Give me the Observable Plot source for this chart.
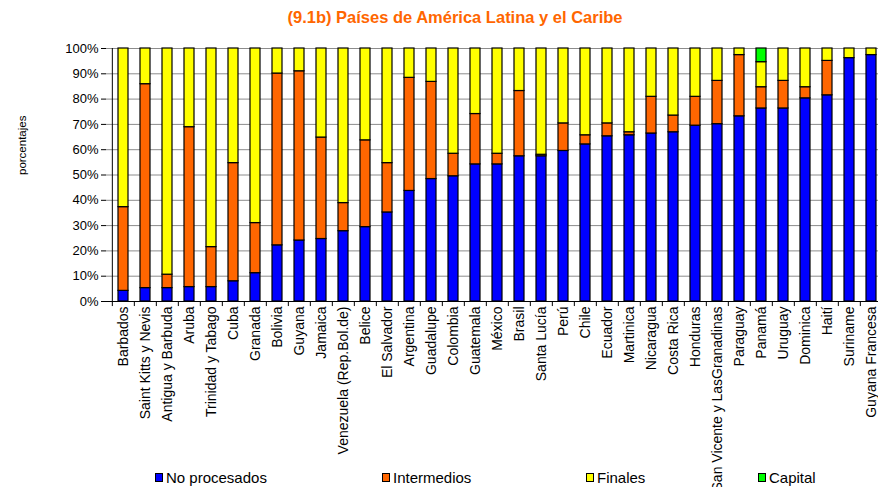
<!DOCTYPE html>
<html><head><meta charset="utf-8">
<script src="https://cdn.jsdelivr.net/npm/d3@7"></script>
<script src="https://cdn.jsdelivr.net/npm/@observablehq/plot@0.6"></script>
<style>
html,body{margin:0;padding:0;background:#fff;}
body{width:878px;height:487px;overflow:hidden;font-family:"Liberation Sans",Arial,sans-serif;}
#title{height:35px;line-height:35px;text-align:center;color:#FF6600;font-weight:bold;font-size:16.5px;padding-left:32px;box-sizing:border-box;width:878px;}
#legend{position:relative;height:19px;width:878px;}
.item{position:absolute;top:0;font-size:15px;line-height:19px;display:flex;align-items:center;color:#000;}
.sw{width:6px;height:7px;border:1px solid #000;margin-right:3px;}
</style>
</head><body>
<div id="title">(9.1b) Países de América Latina y el Caribe</div>
<div id="chart"></div>
<div id="legend"></div>
<script>
const paises = ["Barbados","Saint Kitts y Nevis","Antigua y Barbuda","Aruba","Trinidad y Tabago","Cuba","Granada","Bolivia","Guyana","Jamaica","Venezuela (Rep.Bol.de)","Belice","El Salvador","Argentina","Guadalupe","Colombia","Guatemala","México","Brasil","Santa Lucía","Perú","Chile","Ecuador","Martinica","Nicaragua","Costa Rica","Honduras","San Vicente y LasGranadinas","Paraguay","Panamá","Uruguay","Dominica","Haití","Suriname","Guyana Francesa"];
const noProcesados = [4.2,5.3,5.3,5.7,5.7,8.0,11.2,22.2,24.1,24.7,27.8,29.4,35.2,43.7,48.4,49.5,54.2,54.2,57.4,57.4,59.5,62.1,65.3,65.7,66.4,66.9,69.5,70.1,73.2,76.3,76.3,80.3,81.5,96.2,97.4];
const intermedios = [33.1,80.6,5.3,63.2,15.8,46.7,19.8,67.9,66.9,40.1,11.1,34.3,19.5,44.7,38.4,8.9,19.9,4.2,25.8,0.6,10.9,3.6,5.1,1.2,14.5,6.6,11.4,17.1,24.2,8.4,10.9,4.4,13.6,0,0];
const finales = [62.7,14.1,89.4,31.1,78.5,45.3,69.0,9.9,9.0,35.2,61.1,36.3,45.3,11.6,13.2,41.6,25.9,41.6,16.8,42.0,29.6,34.3,29.6,33.1,19.1,26.5,19.1,12.8,2.6,9.9,12.8,15.3,4.9,3.8,2.6];
const capital = [0,0,0,0,0,0,0,0,0,0,0,0,0,0,0,0,0,0,0,0,0,0,0,0,0,0,0,0,0,5.4,0,0,0,0,0];
const series = ["No procesados","Intermedios","Finales","Capital"];
const colores = ["#0000FF","#FF6600","#FFFF00","#00FF00"];
const yTicks = [0,10,20,30,40,50,60,70,80,90,100];

const valores = [noProcesados, intermedios, finales, capital];
const data = [];
paises.forEach((p, i) => {
  series.forEach((s, j) => {
    const v = valores[j][i];
    if (v > 0) data.push({pais: p, serie: s, valor: v});
  });
});

const W = 890, H = 433, mL = 106, mR = 3, mT = 13, mB = 167;
const step = (W - mL - mR) / paises.length;

const chart = Plot.plot({
  width: W, height: H,
  marginLeft: mL, marginRight: mR, marginTop: mT, marginBottom: mB,
  style: {fontFamily: "'Liberation Sans', Arial, sans-serif", maxWidth: "none", overflow: "visible", background: "transparent", color: "#000"},
  x: {domain: paises, paddingInner: 0.55, paddingOuter: 0.275, label: null},
  y: {domain: [0, 100], label: null},
  color: {domain: series, range: colores},
  marks: [
    Plot.ruleY(yTicks, {stroke: "#8c8c8c", strokeWidth: 1}),
    Plot.barY(data, {x: "pais", y: "valor", fill: "serie", stroke: "#000", strokeWidth: 1.2}),
    Plot.ruleY([0], {stroke: "#000"}),
    Plot.ruleX(paises, {x: d => d, dx: -step / 2, y1: 0, y2: -2, stroke: "#000"}),
    Plot.ruleX([paises[0]], {x: d => d, dx: -step / 2, y1: 0, y2: 100, stroke: "#000"}),
    Plot.axisY({ticks: yTicks, tickFormat: d => d + "%", tickSize: 5, tickPadding: 3, fontSize: 13, label: null}),
    Plot.axisX({tickRotate: -90, tickSize: 0, tickPadding: 5, fontSize: 14, label: null}),
    Plot.text(["porcentajes"], {frameAnchor: "left", dx: -84, rotate: -90, fontSize: 11.5})
  ]
});
document.getElementById("chart").appendChild(chart);

const legendLefts = [155, 382, 586, 758];
const legend = document.getElementById("legend");
series.forEach((s, j) => {
  const it = document.createElement("div");
  it.className = "item";
  it.style.left = legendLefts[j] + "px";
  const sw = document.createElement("span");
  sw.className = "sw";
  sw.style.background = colores[j];
  const t = document.createElement("span");
  t.textContent = s;
  it.appendChild(sw); it.appendChild(t);
  legend.appendChild(it);
});
</script>
</body></html>
